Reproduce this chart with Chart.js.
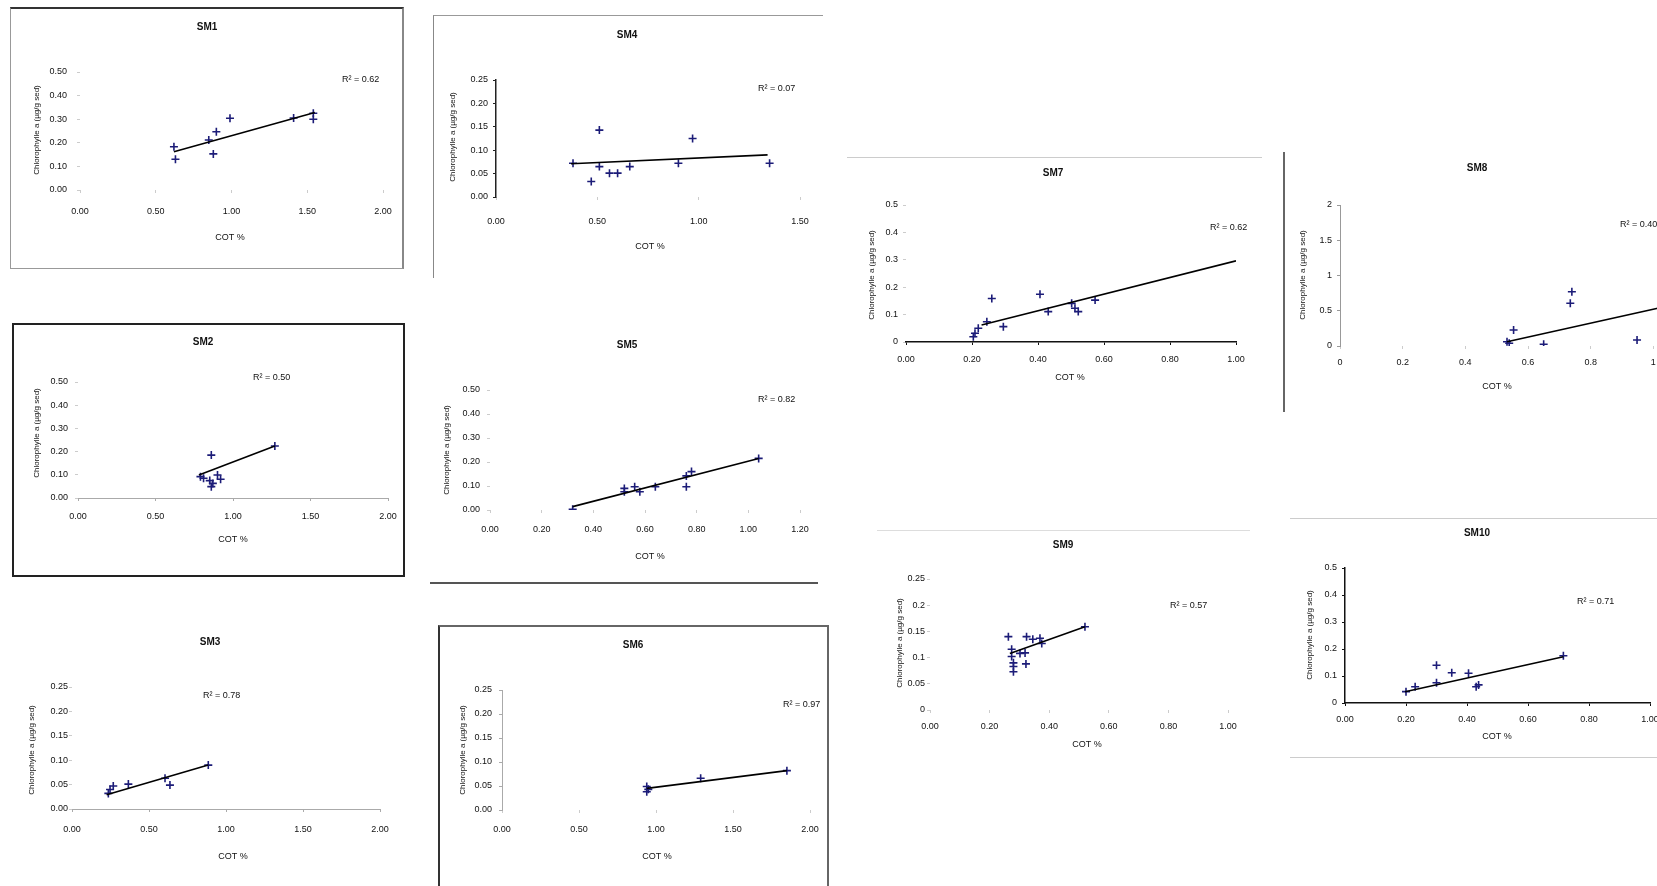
<!DOCTYPE html>
<html>
<head>
<meta charset="utf-8">
<script src="https://cdn.jsdelivr.net/npm/chart.js@4.4.0/dist/chart.umd.min.js"></script>
<style>
  html, body { margin: 0; padding: 0; background: #fff; }
  body { width: 1657px; height: 886px; overflow: hidden; position: relative; }
  canvas { position: absolute; }
  .frame { position: absolute; box-sizing: border-box; }
</style>
</head>
<body>
<div class="frame" style="left:10px;top:7px;width:394px;height:262px;border-top:2px solid #333;border-left:1px solid #999;border-right:2px solid #888;border-bottom:1px solid #999"></div>
<div class="frame" style="left:433px;top:15px;width:390px;height:263px;border-top:1px solid #999;border-left:1px solid #888"></div>
<div class="frame" style="left:12px;top:323px;width:393px;height:254px;border:2px solid #222"></div>
<div class="frame" style="left:430px;top:582px;width:388px;height:2px;border-top:2px solid #555"></div>
<div class="frame" style="left:438px;top:625px;width:391px;height:280px;border-top:2px solid #666;border-left:2px solid #333;border-right:2px solid #666"></div>
<div class="frame" style="left:847px;top:157px;width:415px;height:1px;border-top:1px solid #ccc"></div>
<div class="frame" style="left:1283px;top:152px;width:2px;height:260px;border-left:2px solid #666"></div>
<div class="frame" style="left:877px;top:530px;width:373px;height:1px;border-top:1px solid #ddd"></div>
<div class="frame" style="left:1290px;top:518px;width:400px;height:240px;border-top:1px solid #ccc;border-bottom:1px solid #ccc"></div>
<script>
// values (COT % against chlorophyll a)
const sm1X = [0.62, 0.63, 0.85, 0.88, 0.90, 0.99, 1.41, 1.54, 1.54];
const sm1Y = [0.183, 0.130, 0.212, 0.153, 0.247, 0.304, 0.305, 0.325, 0.300];
const sm1TrendX = [0.62, 1.55];
const sm1TrendY = [0.162, 0.328];

const sm4X = [0.38, 0.51, 0.51, 0.47, 0.56, 0.60, 0.66, 0.90, 0.97, 1.35];
const sm4Y = [0.072, 0.143, 0.065, 0.033, 0.051, 0.051, 0.065, 0.072, 0.125, 0.072];
const sm4TrendX = [0.37, 1.34];
const sm4TrendY = [0.071, 0.090];

const sm2X = [0.86, 0.79, 0.81, 0.85, 0.87, 0.86, 0.92, 0.90, 1.27];
const sm2Y = [0.185, 0.092, 0.085, 0.075, 0.063, 0.049, 0.081, 0.099, 0.224];
const sm2TrendX = [0.78, 1.27];
const sm2TrendY = [0.099, 0.224];

const sm5X = [0.32, 0.52, 0.52, 0.56, 0.58, 0.64, 0.76, 0.78, 0.76, 1.04];
const sm5Y = [0.003, 0.090, 0.076, 0.097, 0.076, 0.097, 0.097, 0.160, 0.142, 0.215];
const sm5TrendX = [0.32, 1.04];
const sm5TrendY = [0.014, 0.215];

const sm3X = [0.236, 0.247, 0.268, 0.366, 0.604, 0.636, 0.885];
const sm3Y = [0.032, 0.040, 0.047, 0.051, 0.063, 0.049, 0.090];
const sm3TrendX = [0.225, 0.885];
const sm3TrendY = [0.029, 0.090];

const sm6X = [0.94, 0.94, 0.95, 1.29, 1.85];
const sm6Y = [0.049, 0.038, 0.043, 0.066, 0.082];
const sm6TrendX = [0.94, 1.85];
const sm6TrendY = [0.045, 0.082];

const sm7X = [0.204, 0.209, 0.219, 0.245, 0.26, 0.295, 0.406, 0.431, 0.502, 0.512, 0.522, 0.573];
const sm7Y = [0.019, 0.032, 0.050, 0.074, 0.159, 0.056, 0.174, 0.111, 0.141, 0.123, 0.111, 0.153];
const sm7TrendX = [0.229, 1.0];
const sm7TrendY = [0.062, 0.296];

const sm8X = [0.533, 0.54, 0.554, 0.65, 0.74, 0.735, 0.948];
const sm8Y = [0.061, 0.04, 0.227, 0.024, 0.77, 0.606, 0.085];
const sm8TrendX = [0.533, 1.1];
const sm8TrendY = [0.061, 0.62];

const sm9X = [0.263, 0.274, 0.274, 0.28, 0.28, 0.28, 0.302, 0.319, 0.322, 0.324, 0.345, 0.369, 0.375, 0.52];
const sm9Y = [0.140, 0.116, 0.102, 0.090, 0.083, 0.073, 0.108, 0.109, 0.088, 0.140, 0.135, 0.137, 0.127, 0.159];
const sm9TrendX = [0.268, 0.52];
const sm9TrendY = [0.108, 0.159];

const sm10X = [0.20, 0.23, 0.30, 0.30, 0.35, 0.405, 0.438, 0.43, 0.716];
const sm10Y = [0.042, 0.060, 0.075, 0.140, 0.112, 0.110, 0.067, 0.060, 0.175];
const sm10TrendX = [0.197, 0.716];
const sm10TrendY = [0.042, 0.171];

const panelTitles = ['SM1', 'SM4', 'SM2', 'SM5', 'SM3', 'SM6', 'SM7', 'SM8', 'SM9', 'SM10'];
const r2Labels = ['R² = 0.62', 'R² = 0.07', 'R² = 0.50', 'R² = 0.82', 'R² = 0.78',
                  'R² = 0.97', 'R² = 0.62', 'R² = 0.40', 'R² = 0.57', 'R² = 0.71'];
const xAxisTitle = 'COT %';
const yAxisTitle = 'Chlorophylle a (µg/g sed)';

const fmt2 = v => v.toFixed(2);
const fmtG = v => String(parseFloat(v.toFixed(3)));
const FONT = '"Liberation Sans", Arial, sans-serif';
const navy = '#1c1c78';

// page positions of each panel (canvas box, plot area, texts)
const panels = [
  { cx: 10, cy: 7, cw: 390, ch: 261, L: 80, T: 72, R: 383, B: 190,
    x: [0, 2, 0.5, fmt2], y: [0, 0.5, 0.1, fmt2], xLab: 212, yLab: 67,
    title: [207, 27], xt: [230, 238], yt: [37, 130], r2: [342, 80], xLine: null, yLine: null,
    xs: sm1X, ys: sm1Y, tx: sm1TrendX, ty: sm1TrendY },
  { cx: 433, cy: 15, cw: 397, ch: 265, L: 496, T: 80, R: 800, B: 197,
    x: [0, 1.5, 0.5, fmt2], y: [0, 0.25, 0.05, fmt2], xLab: 222, yLab: 488,
    title: [627, 35], xt: [650, 247], yt: [453, 137], r2: [758, 89], xLine: null, yLine: '#222',
    xs: sm4X, ys: sm4Y, tx: sm4TrendX, ty: sm4TrendY },
  { cx: 14, cy: 325, cw: 389, ch: 250, L: 78, T: 382, R: 388, B: 498,
    x: [0, 2, 0.5, fmt2], y: [0, 0.5, 0.1, fmt2], xLab: 517, yLab: 68,
    title: [203, 342], xt: [233, 540], yt: [37, 433], r2: [253, 378], xLine: '#aaa', yLine: null,
    xs: sm2X, ys: sm2Y, tx: sm2TrendX, ty: sm2TrendY },
  { cx: 430, cy: 320, cw: 400, ch: 261, L: 490, T: 390, R: 800, B: 510,
    x: [0, 1.2, 0.2, fmt2], y: [0, 0.5, 0.1, fmt2], xLab: 530, yLab: 480,
    title: [627, 345], xt: [650, 557], yt: [447, 450], r2: [758, 400], xLine: null, yLine: null,
    xs: sm5X, ys: sm5Y, tx: sm5TrendX, ty: sm5TrendY },
  { cx: 10, cy: 620, cw: 410, ch: 266, L: 72, T: 687, R: 380, B: 809,
    x: [0, 2, 0.5, fmt2], y: [0, 0.25, 0.05, fmt2], xLab: 830, yLab: 68,
    title: [210, 642], xt: [233, 857], yt: [32, 750], r2: [203, 696], xLine: '#aaa', yLine: null,
    xs: sm3X, ys: sm3Y, tx: sm3TrendX, ty: sm3TrendY },
  { cx: 440, cy: 627, cw: 386, ch: 259, L: 502, T: 690, R: 810, B: 810,
    x: [0, 2, 0.5, fmt2], y: [0, 0.25, 0.05, fmt2], xLab: 830, yLab: 492,
    title: [633, 645], xt: [657, 857], yt: [463, 750], r2: [783, 705], xLine: null, yLine: '#aaa',
    xs: sm6X, ys: sm6Y, tx: sm6TrendX, ty: sm6TrendY },
  { cx: 845, cy: 158, cw: 420, ch: 262, L: 906, T: 205, R: 1236, B: 342,
    x: [0, 1, 0.2, fmt2], y: [0, 0.5, 0.1, fmtG], xLab: 360, yLab: 898,
    title: [1053, 173], xt: [1070, 378], yt: [872, 275], r2: [1210, 228], xLine: '#111', yLine: null,
    xs: sm7X, ys: sm7Y, tx: sm7TrendX, ty: sm7TrendY },
  { cx: 1285, cy: 152, cw: 465, ch: 260, L: 1340, T: 205, R: 1716, B: 346,
    x: [0, 1.2, 0.2, fmtG], y: [0, 2, 0.5, fmtG], xLab: 363, yLab: 1332,
    title: [1477, 168], xt: [1497, 387], yt: [1303, 275], r2: [1620, 225], xLine: null, yLine: '#999',
    xs: sm8X, ys: sm8Y, tx: sm8TrendX, ty: sm8TrendY },
  { cx: 877, cy: 531, cw: 383, ch: 239, L: 930, T: 579, R: 1228, B: 710,
    x: [0, 1, 0.2, fmt2], y: [0, 0.25, 0.05, fmtG], xLab: 727, yLab: 925,
    title: [1063, 545], xt: [1087, 745], yt: [900, 643], r2: [1170, 606], xLine: null, yLine: null,
    xs: sm9X, ys: sm9Y, tx: sm9TrendX, ty: sm9TrendY },
  { cx: 1290, cy: 519, cw: 460, ch: 237, L: 1345, T: 568, R: 1650, B: 703,
    x: [0, 1, 0.2, fmt2], y: [0, 0.5, 0.1, fmtG], xLab: 720, yLab: 1337,
    title: [1477, 533], xt: [1497, 737], yt: [1310, 635], r2: [1577, 602], xLine: '#111', yLine: '#111',
    xs: sm10X, ys: sm10Y, tx: sm10TrendX, ty: sm10TrendY }
];

const panelText = {
  id: 'panelText',
  afterDraw(chart, args, opts) {
    const p = opts.panel, ctx = chart.ctx;
    ctx.save();
    ctx.fillStyle = '#111';
    ctx.textBaseline = 'middle';
    ctx.textAlign = 'center';
    ctx.font = 'bold 10px ' + FONT;
    ctx.fillText(opts.title, p.title[0] - p.cx, p.title[1] - p.cy);
    ctx.font = '9px ' + FONT;
    ctx.fillText(xAxisTitle, p.xt[0] - p.cx, p.xt[1] - p.cy);
    ctx.textAlign = 'left';
    ctx.fillText(opts.r2, p.r2[0] - p.cx, p.r2[1] - p.cy);
    ctx.translate(p.yt[0] - p.cx, p.yt[1] - p.cy);
    ctx.rotate(-Math.PI / 2);
    ctx.textAlign = 'center';
    ctx.font = '8px ' + FONT;
    ctx.fillText(yAxisTitle, 0, 0);
    ctx.restore();
  }
};

const TL = 3;

panels.forEach((p, i) => {
  const canvas = document.createElement('canvas');
  canvas.width = p.cw;
  canvas.height = p.ch;
  canvas.style.left = p.cx + 'px';
  canvas.style.top = p.cy + 'px';
  canvas.style.width = p.cw + 'px';
  canvas.style.height = p.ch + 'px';
  document.body.appendChild(canvas);

  const axis = (r, line, pad, horiz) => ({
    type: 'linear',
    min: r[0], max: r[1],
    ticks: { stepSize: r[2], callback: r[3], padding: pad, autoSkip: false, maxRotation: 0,
             color: '#111', font: { family: FONT, size: 9 } },
    grid: { display: true, drawOnChartArea: false, drawTicks: true, tickLength: TL, color: line || '#ccc' },
    border: { display: !!line, color: line || '#fff', width: line === '#111' || line === '#222' ? 1.5 : 1 },
    afterFit(s) {
      if (horiz) { s.height = p.cy + p.ch - p.B; s.paddingLeft = 0; s.paddingRight = 0; }
      else { s.width = p.L - p.cx; s.paddingTop = 0; s.paddingBottom = 0; }
    }
  });

  new Chart(canvas, {
    type: 'scatter',
    data: {
      datasets: [
        { data: p.xs.map((x, k) => ({ x: x, y: p.ys[k] })),
          pointStyle: 'cross', pointRadius: 4, borderColor: navy, borderWidth: 1.6, order: 2 },
        { data: p.tx.map((x, k) => ({ x: x, y: p.ty[k] })),
          showLine: true, pointRadius: 0, borderColor: '#000', borderWidth: 1.6, order: 1 }
      ]
    },
    options: {
      responsive: false,
      animation: false,
      layout: { padding: { left: 0, top: p.T - p.cy, right: p.cx + p.cw - p.R, bottom: 0 } },
      plugins: {
        legend: { display: false },
        tooltip: { enabled: false },
        panelText: { panel: p, title: panelTitles[i], r2: r2Labels[i] }
      },
      scales: {
        x: axis(p.x, p.xLine, p.xLab - p.B - TL - 5.4, true),
        y: axis(p.y, p.yLine, p.L - p.yLab - TL, false)
      }
    },
    plugins: [panelText]
  });
});
</script>
</body>
</html>
